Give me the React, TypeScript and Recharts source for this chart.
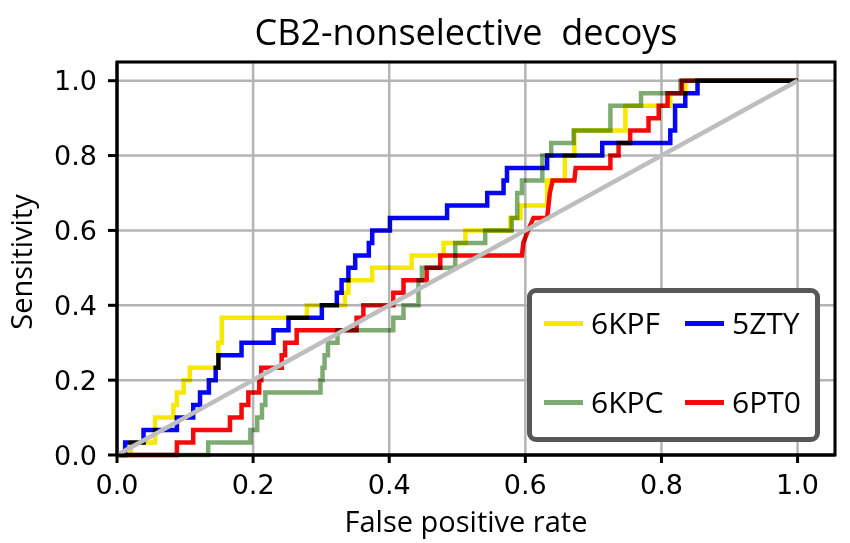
import { CartesianGrid, Label, Line, LineChart, ReferenceArea, XAxis, YAxis } from 'recharts';

// ROC curves for CB2-nonselective decoys; each point is [false positive rate, actives found]
const ACTIVES = 30;

const xTicks = [0, 0.2, 0.4, 0.6, 0.8, 1.0];
const yTicks = [0, 0.2, 0.4, 0.6, 0.8, 1.0];

const steps6KPF: [number, number][] = [
  [0, 0], [0.02, 0], [0.02, 1], [0.056, 1], [0.056, 3], [0.083, 3], [0.083, 4], [0.088, 4],
  [0.088, 5], [0.098, 5], [0.098, 6], [0.107, 6], [0.107, 7], [0.149, 7], [0.149, 9], [0.154, 9],
  [0.154, 11], [0.279, 11], [0.279, 12], [0.335, 12], [0.335, 13], [0.34, 13], [0.34, 14],
  [0.375, 14], [0.375, 15], [0.433, 15], [0.433, 16], [0.48, 16], [0.48, 17], [0.512, 17],
  [0.512, 18], [0.578, 18], [0.578, 19], [0.593, 19], [0.593, 20], [0.632, 20], [0.632, 22],
  [0.658, 22], [0.658, 24], [0.672, 24], [0.672, 26], [0.747, 26], [0.747, 28], [0.813, 28],
  [0.813, 29], [0.835, 29], [0.835, 30], [1, 30],
];

const steps5ZTY: [number, number][] = [
  [0, 0], [0.012, 0], [0.012, 1], [0.039, 1], [0.039, 2], [0.088, 2], [0.088, 3], [0.112, 3],
  [0.112, 4], [0.122, 4], [0.122, 5], [0.135, 5], [0.135, 6], [0.145, 6], [0.145, 7], [0.149, 7],
  [0.149, 8], [0.183, 8], [0.183, 9], [0.23, 9], [0.23, 10], [0.252, 10], [0.252, 11], [0.301, 11],
  [0.301, 12], [0.323, 12], [0.323, 13], [0.33, 13], [0.33, 14], [0.34, 14], [0.34, 15], [0.35, 15],
  [0.35, 16], [0.37, 16], [0.37, 17], [0.375, 17], [0.375, 18], [0.401, 18], [0.401, 19],
  [0.485, 19], [0.485, 20], [0.544, 20], [0.544, 21], [0.568, 21], [0.568, 22], [0.573, 22],
  [0.573, 23], [0.632, 23], [0.632, 24], [0.713, 24], [0.713, 25], [0.813, 25], [0.813, 26],
  [0.82, 26], [0.82, 28], [0.835, 28], [0.835, 29], [0.853, 29], [0.853, 30], [1, 30],
];

const steps6KPC: [number, number][] = [
  [0, 0], [0.134, 0], [0.134, 1], [0.196, 1], [0.196, 2], [0.206, 2], [0.206, 3], [0.213, 3],
  [0.213, 4], [0.218, 4], [0.218, 5], [0.299, 5], [0.299, 6], [0.302, 6], [0.302, 7], [0.305, 7],
  [0.305, 8], [0.31, 8], [0.31, 9], [0.324, 9], [0.324, 10], [0.406, 10], [0.406, 11], [0.421, 11],
  [0.421, 12], [0.443, 12], [0.443, 14], [0.448, 14], [0.448, 15], [0.497, 15], [0.497, 17],
  [0.541, 17], [0.541, 18], [0.58, 18], [0.58, 19], [0.588, 19], [0.588, 21], [0.595, 21],
  [0.595, 22], [0.625, 22], [0.625, 24], [0.638, 24], [0.638, 25], [0.671, 25], [0.671, 26],
  [0.725, 26], [0.725, 28], [0.77, 28], [0.77, 29], [0.828, 29], [0.828, 30], [1, 30],
];

const steps6PT0: [number, number][] = [
  [0, 0], [0.088, 0], [0.088, 1], [0.112, 1], [0.112, 2], [0.166, 2], [0.166, 3], [0.183, 3],
  [0.183, 4], [0.193, 4], [0.193, 5], [0.209, 5], [0.209, 6], [0.212, 6], [0.212, 7], [0.242, 7],
  [0.242, 8], [0.247, 8], [0.247, 9], [0.264, 9], [0.264, 10], [0.352, 10], [0.352, 11],
  [0.362, 11], [0.362, 12], [0.406, 12], [0.406, 13], [0.421, 13], [0.421, 14], [0.455, 14],
  [0.455, 15], [0.475, 15], [0.475, 16], [0.595, 16], [0.597, 17], [0.604, 18], [0.612, 19],
  [0.632, 19], [0.636, 21], [0.64, 22], [0.672, 22], [0.674, 23], [0.725, 23], [0.725, 24],
  [0.737, 24], [0.737, 25], [0.754, 25], [0.754, 26], [0.781, 26], [0.781, 27], [0.796, 27],
  [0.796, 28], [0.809, 28], [0.809, 29], [0.83, 29], [0.83, 30], [1, 30],
];

const diagonal: [number, number][] = [[0, 0], [1, ACTIVES]];

const seriesNames = ['6KPF', '5ZTY', '6KPC', '6PT0'];
const seriesColors = ['#f7e800', '#0606f4', '#7dab72', '#f40a0a'];
const seriesSteps = [steps6KPF, steps5ZTY, steps6KPC, steps6PT0];

const toPoints = (steps: [number, number][]) =>
  steps.map(([fpr, found]) => ({ fpr, tpr: found / ACTIVES }));

const tickStyle = { fontSize: 27, fill: '#000', fontFamily: 'DejaVu Sans' };
const labelFont = 'Open Sans';

const App = () => {
  return (
    <div style={{ position: 'absolute', left: 0, top: 0, width: 850, height: 543, background: '#fff' }}>
      <style>{'.roc path { mix-blend-mode: multiply; }'}</style>
      <div
        style={{
          position: 'absolute',
          left: 0,
          top: 12,
          width: 932,
          textAlign: 'center',
          fontFamily: labelFont,
          fontSize: 36,
          lineHeight: '40px',
          color: '#000',
        }}
      >
        CB2-nonselective&nbsp;&nbsp;decoys
      </div>
      <LineChart width={850} height={543} margin={{ top: 62, right: 15, left: 0, bottom: 0 }}>
        <CartesianGrid stroke="#b4b4b4" strokeWidth={2.5} />
        <XAxis
          type="number"
          dataKey="fpr"
          domain={[0, 1.055]}
          ticks={xTicks}
          height={88}
          tickSize={8}
          tickMargin={12}
          tick={tickStyle}
          tickFormatter={(v: number) => v.toFixed(1)}
          axisLine={{ stroke: '#000', strokeWidth: 3 }}
          tickLine={{ stroke: '#000', strokeWidth: 3 }}
        >
          <Label
            content={() => (
              <text x={466} y={532} textAnchor="middle" fontFamily={labelFont} fontSize={29} fill="#000">
                False positive rate
              </text>
            )}
          />
        </XAxis>
        <YAxis
          type="number"
          domain={[0, 1.05]}
          ticks={yTicks}
          width={117}
          tickSize={9}
          tickMargin={11}
          tick={tickStyle}
          tickFormatter={(v: number) => v.toFixed(1)}
          axisLine={{ stroke: '#000', strokeWidth: 3 }}
          tickLine={{ stroke: '#000', strokeWidth: 3 }}
        >
          <Label
            content={() => (
              <text
                x={32}
                y={262}
                transform="rotate(-90 32 262)"
                textAnchor="middle"
                fontFamily={labelFont}
                fontSize={29}
                fill="#000"
              >
                Sensitivity
              </text>
            )}
          />
        </YAxis>
        <ReferenceArea x1={0} x2={1.055} y1={0} y2={1.05} fill="none" stroke="#000" strokeWidth={3} />
        {seriesSteps.map((steps, i) => (
          <Line
            key={seriesNames[i]}
            className="roc"
            data={toPoints(steps)}
            dataKey="tpr"
            type="linear"
            stroke={seriesColors[i]}
            strokeWidth={4.5}
            dot={false}
            activeDot={false}
            isAnimationActive={false}
          />
        ))}
        <Line
          data={toPoints(diagonal)}
          dataKey="tpr"
          type="linear"
          stroke="#bebebe"
          strokeWidth={4.5}
          dot={false}
          activeDot={false}
          isAnimationActive={false}
        />
      </LineChart>
      <div
        style={{
          position: 'absolute',
          left: 527,
          top: 288,
          width: 293,
          height: 154,
          boxSizing: 'border-box',
          border: '5px solid #575757',
          borderRadius: 9,
          background: '#fff',
          fontFamily: labelFont,
          fontSize: 30,
          color: '#000',
        }}
      >
        {seriesNames.map((name, i) => (
          <div
            key={name}
            style={{
              position: 'absolute',
              left: i % 2 === 0 ? 12 : 153,
              top: i < 2 ? 12 : 91,
              height: 36,
              display: 'flex',
              alignItems: 'center',
            }}
          >
            <span style={{ display: 'inline-block', width: 39, height: 5, background: seriesColors[i] }} />
            <span style={{ marginLeft: 8, lineHeight: '36px' }}>{name}</span>
          </div>
        ))}
      </div>
    </div>
  );
};

export default App;
